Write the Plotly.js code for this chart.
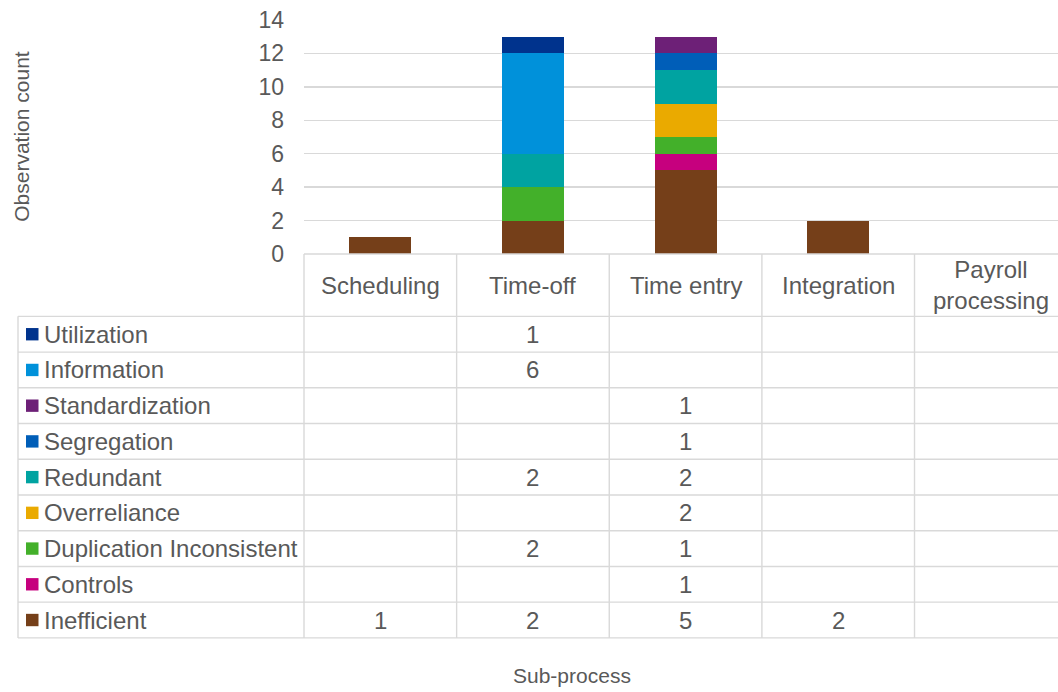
<!DOCTYPE html>
<html>
<head>
<meta charset="utf-8">
<script src="https://cdn.plot.ly/plotly-3.0.1.min.js"></script>
<style>html,body{margin:0;padding:0;background:#fff;}#chart{width:1058px;height:692px;}</style>
</head>
<body>
<div id="chart"></div>
<script>
// ---- Data ----
const categories = ["Scheduling", "Time-off", "Time entry", "Integration", "Payroll processing"];
const categoryLabels = ["Scheduling", "Time-off", "Time entry", "Integration", "Payroll<br>processing"];
const inefficient     = [1, 2, 5, 2, null];
const controls        = [null, null, 1, null, null];
const duplication     = [null, 2, 1, null, null];
const overreliance    = [null, null, 2, null, null];
const redundant       = [null, 2, 2, null, null];
const segregation     = [null, null, 1, null, null];
const standardization = [null, null, 1, null, null];
const information     = [null, 6, null, null, null];
const utilization     = [null, 1, null, null, null];
const yTicks = [0, 2, 4, 6, 8, 10, 12, 14];

// stack order bottom -> top
const series = [
  {name: "Inefficient", values: inefficient, color: "#753F19"},
  {name: "Controls", values: controls, color: "#C6007E"},
  {name: "Duplication Inconsistent", values: duplication, color: "#43B02A"},
  {name: "Overreliance", values: overreliance, color: "#EAAA00"},
  {name: "Redundant", values: redundant, color: "#00A3A1"},
  {name: "Segregation", values: segregation, color: "#005EB8"},
  {name: "Standardization", values: standardization, color: "#6D2077"},
  {name: "Information", values: information, color: "#0091DA"},
  {name: "Utilization", values: utilization, color: "#00338D"}
];

const FONT = "Liberation Sans, Arial, sans-serif";
const TXT = "#595959";
const GRID = "#D9D9D9";

// layout geometry (pixels)
const L = 304, T = 20, B = 254.5, WIDTH = 1058, HEIGHT = 692;
const W = WIDTH - L, H = B - T;
const xr = [-0.5, 4.44];
const headerBottom = 317, rowH = 35.8, tableLeft = 18;

const px2paperX = px => (px - L) / W;
const py2paperY = py => (B - py) / H;
const cat2px = c => L + (c - xr[0]) / (xr[1] - xr[0]) * W;

const traces = series.map(s => ({
  type: "bar",
  name: s.name,
  x: categories,
  y: s.values,
  marker: {color: s.color, line: {width: 0}},
  width: 0.406,
  hoverinfo: "x+y+name"
}));

const shapes = [];
const annotations = [];
const line = (x0, y0, x1, y1) => shapes.push({
  type: "line", xref: "paper", yref: "paper",
  x0: px2paperX(x0), y0: py2paperY(y0), x1: px2paperX(x1), y1: py2paperY(y1),
  line: {color: GRID, width: 1.4}
});

// table rows (top -> bottom)
const rows = series.slice().reverse();
const tableBottom = headerBottom + rowH * rows.length;

// horizontal lines
line(L, B, WIDTH, B);
for (let r = 0; r <= rows.length; r++) {
  const y = headerBottom + r * rowH;
  line(tableLeft, y, WIDTH, y);
}
// vertical lines
line(tableLeft, headerBottom, tableLeft, tableBottom);
for (let k = 0; k < categories.length; k++) {
  const x = cat2px(k - 0.5);
  line(x, B, x, tableBottom);
}

// header labels
categories.forEach((c, i) => {
  annotations.push({
    xref: "paper", yref: "paper",
    x: px2paperX(cat2px(i)), y: py2paperY((B + headerBottom) / 2),
    text: categoryLabels[i], showarrow: false,
    xanchor: "center", yanchor: "middle",
    font: {family: FONT, size: 24, color: TXT}
  });
});

// rows
rows.forEach((s, r) => {
  const yc = headerBottom + (r + 0.5) * rowH;
  shapes.push({
    type: "rect", xref: "paper", yref: "paper",
    x0: px2paperX(26), x1: px2paperX(38.5),
    y0: py2paperY(yc - 6.2), y1: py2paperY(yc + 6.2),
    fillcolor: s.color, line: {width: 0}
  });
  annotations.push({
    xref: "paper", yref: "paper",
    x: px2paperX(42), y: py2paperY(yc),
    text: s.name, showarrow: false, xanchor: "left", yanchor: "middle",
    font: {family: FONT, size: 24, color: TXT}
  });
  s.values.forEach((v, i) => {
    if (v === null || v === undefined) return;
    annotations.push({
      xref: "paper", yref: "paper",
      x: px2paperX(cat2px(i)), y: py2paperY(yc),
      text: String(v), showarrow: false, xanchor: "center", yanchor: "middle",
      font: {family: FONT, size: 24, color: TXT}
    });
  });
});

// axis titles
annotations.push({
  xref: "paper", yref: "paper",
  x: px2paperX(572), y: py2paperY(677),
  text: "Sub-process", showarrow: false, xanchor: "center", yanchor: "middle",
  font: {family: FONT, size: 21, color: TXT}
});
annotations.push({
  xref: "paper", yref: "paper",
  x: px2paperX(22), y: py2paperY(137),
  text: "Observation count", showarrow: false, textangle: -90,
  xanchor: "center", yanchor: "middle",
  font: {family: FONT, size: 21, color: TXT}
});

const layout = {
  width: WIDTH, height: HEIGHT,
  margin: {l: L, r: 0, t: T, b: HEIGHT - B, autoexpand: false},
  paper_bgcolor: "#fff", plot_bgcolor: "#fff",
  barmode: "stack",
  showlegend: false,
  xaxis: {
    type: "category", range: xr, showticklabels: false, ticks: "",
    showgrid: false, zeroline: false, showline: false, fixedrange: true
  },
  yaxis: {
    range: [0, 14], tickvals: yTicks, ticktext: yTicks.map(String),
    showgrid: true, gridcolor: GRID, gridwidth: 1.4, zeroline: false, showline: false,
    ticks: "", ticklabelstandoff: 19,
    tickfont: {family: FONT, size: 23, color: TXT}, fixedrange: true
  },
  shapes: shapes,
  annotations: annotations,
  font: {family: FONT, color: TXT}
};

Plotly.newPlot("chart", traces, layout, {displayModeBar: false, staticPlot: true});
</script>
</body>
</html>
